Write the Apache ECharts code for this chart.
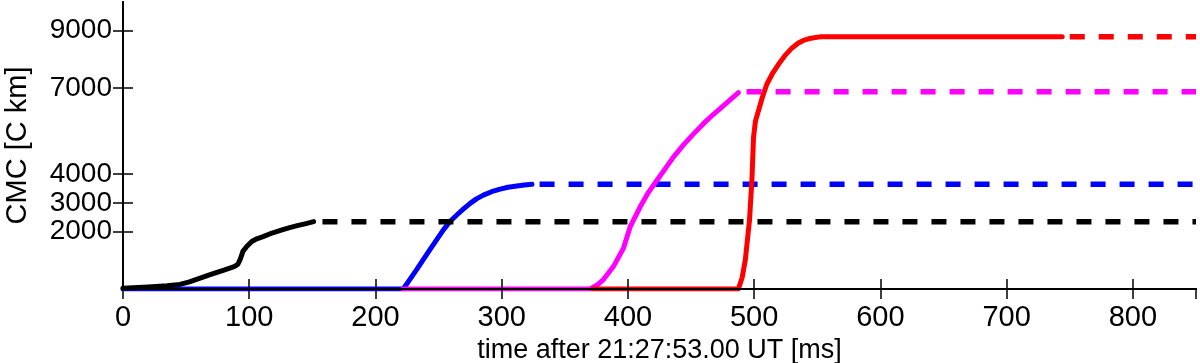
<!DOCTYPE html>
<html>
<head>
<meta charset="utf-8">
<script src="https://cdn.jsdelivr.net/npm/echarts@6/dist/echarts.min.js"></script>
<style>
html,body{margin:0;padding:0;background:#fff;}
#chart{width:1200px;height:363px;}
</style>
</head>
<body>
<div id="chart"></div>
<script>
// ---- data (time in ms, CMC in C km) ----
const xTicksMax = 850;
const yTickValues = [2000, 3000, 4000, 7000, 9000];

const blackT = [0, 20, 35, 45, 52, 60, 69, 80, 88, 91, 93, 95, 98, 102, 106, 111, 118, 126, 132, 138, 145, 151];
const blackV = [30, 70, 110, 160, 240, 360, 500, 660, 780, 860, 1050, 1310, 1480, 1655, 1750, 1827, 1950, 2060, 2140, 2208, 2280, 2346];
const blackDashT = [158, 850];
const blackDashV = [2340, 2340];

const blueT = [0, 222, 227, 232.6, 243, 253.8, 259, 264.4, 270, 275, 280, 285.5, 292, 298.7, 305, 312, 318, 324];
const blueV = [0, 0, 320, 675, 1367, 2059, 2350, 2578, 2800, 2983, 3140, 3270, 3390, 3478, 3545, 3592, 3625, 3650];
const blueDashT = [330, 850];
const blueDashV = [3650, 3650];

const magT = [222, 370, 375, 380.6, 388.6, 396.5, 401.8, 409.7, 416, 423, 430, 436, 444, 452, 460, 468, 478, 487.5];
const magV = [0, 0, 120, 330, 790, 1425, 2173, 2865, 3350, 3789, 4220, 4595, 5020, 5405, 5770, 6097, 6480, 6845];
const magDashT = [494, 850];
const magDashV = [6870, 6870];

const redT = [372, 487.5, 490.5, 493, 496.3, 498.2, 499.5, 501, 503.4, 506.5, 510, 514.5, 519.3, 524.5, 530, 535, 539, 545, 552, 744];
const redV = [0, 0, 400, 1020, 2400, 3790, 5290, 5850, 6210, 6680, 7135, 7510, 7830, 8140, 8400, 8570, 8660, 8740, 8785, 8785];
const redDashT = [750, 850];
const redDashV = [8785, 8785];

function pairs(t, v) { return t.map((x, i) => [x, v[i]]); }

const FONT = "'Liberation Sans', Arial, sans-serif";
const chart = echarts.init(document.getElementById('chart'));

function solid(name, color, t, v, z) {
  return { name, type: 'line', data: pairs(t, v), showSymbol: false, symbol: 'none',
    lineStyle: { color, width: 5, cap: 'round', join: 'round' }, z: z, animation: false };
}
function dashed(name, color, t, v, z) {
  return { name, type: 'line', data: pairs(t, v), showSymbol: false, symbol: 'none',
    lineStyle: { color, width: 5.5, type: [15, 14] }, z: z, animation: false };
}

const axisLineStyle = { lineStyle: { color: '#000', width: 2 } };
const tickStyle = { inside: true, length: 10, lineStyle: { color: '#000', width: 1.5 } };

chart.setOption({
  animation: false,
  backgroundColor: '#fff',
  grid: { left: 123, right: 4, top: 2, bottom: 74, containLabel: false, outerBoundsMode: 'none' },
  xAxis: [
    { type: 'value', min: 0, max: xTicksMax, interval: 100, position: 'bottom',
      axisLine: axisLineStyle, axisTick: tickStyle, splitLine: { show: false },
      axisLabel: { showMaxLabel: false, hideOverlap: false, color: '#000', fontSize: 29, lineHeight: 26,
        fontFamily: FONT, margin: 16, formatter: v => String(v) },
      name: 'time after 21:27:53.00 UT [ms]', nameLocation: 'middle', nameGap: 37,
      nameTextStyle: { color: '#000', fontSize: 27, lineHeight: 26, fontFamily: FONT }, z: 5 },
    { type: 'value', min: 0, max: xTicksMax, interval: 100, position: 'top',
      axisLine: axisLineStyle, axisTick: tickStyle, splitLine: { show: false },
      axisLabel: { show: false }, z: 5 }
  ],
  yAxis: [
    { type: 'value', min: 0, max: 10000, position: 'left',
      axisLine: { show: true, ...axisLineStyle },
      axisTick: { ...tickStyle, customValues: yTickValues },
      axisLabel: { customValues: yTickValues, hideOverlap: false, color: '#000', fontSize: 28, lineHeight: 22,
        fontFamily: FONT, margin: 11, formatter: v => String(v) },
      splitLine: { show: false },
      name: 'CMC [C km]', nameLocation: 'middle', nameRotate: 90, nameGap: 91,
      nameTextStyle: { color: '#000', fontSize: 29, fontFamily: FONT }, z: 5 },
    { type: 'value', min: 0, max: 10000, position: 'right',
      axisLine: { show: true, ...axisLineStyle },
      axisTick: { ...tickStyle, customValues: yTickValues },
      axisLabel: { show: false }, splitLine: { show: false }, z: 5 }
  ],
  series: [
    solid('blue', '#0000ff', blueT, blueV, 2),
    solid('magenta', '#ff00ff', magT, magV, 3),
    solid('red', '#ff0000', redT, redV, 4),
    solid('black', '#000000', blackT, blackV, 4),
    dashed('black dashed', '#000000', blackDashT, blackDashV, 2),
    dashed('blue dashed', '#0000ff', blueDashT, blueDashV, 2),
    dashed('magenta dashed', '#ff00ff', magDashT, magDashV, 2),
    dashed('red dashed', '#ff0000', redDashT, redDashV, 2)
  ]
});
</script>
</body>
</html>
